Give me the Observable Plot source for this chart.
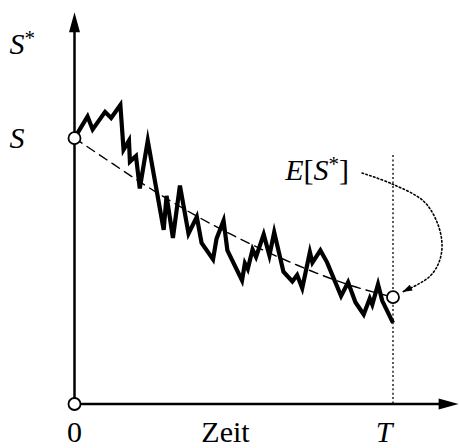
<!DOCTYPE html>
<html><head><meta charset="utf-8">
<script src="https://cdn.jsdelivr.net/npm/d3@7"></script>
<script src="https://cdn.jsdelivr.net/npm/@observablehq/plot@0.6"></script>
<style>body{margin:0;background:#fff} svg{display:block;overflow:visible}</style>
</head><body><div id="chart"></div>
<script>
// simulated price path S*(t), time in units where T = 100, S = 100
const pathT = [0,4.1,5.7,9.6,11.5,14.4,15.4,17.1,17.4,19.3,20.5,23.0,25.6,28.0,28.9,30.9,33.1,35.8,38.4,39.9,43.5,44.6,46.8,48.0,52.6,53.5,54.4,55.9,57.0,59.4,61.2,62.7,65.6,68.4,69.9,71.5,73.9,74.7,77.2,79.3,83.7,85.9,88.2,90.8,92.7,93.5,95.3,96.6,100];
const pathS = [100,108.2,103.3,109.9,107.6,112.5,95.7,99.1,91.2,93.3,81.1,99.1,81.6,65.5,78.3,62.5,82.2,64.1,70.4,60.6,54.4,62.2,69.0,57.8,46.5,52.9,50.8,58.1,55.3,63.8,55.9,64.6,49.8,46.1,48.5,43.6,57.1,53.2,57.8,53.3,40.6,45.8,38.3,33.7,39.7,37.4,45.0,38.9,30.5];
// expected value curve E[S*](t)
const expT = [0,10,20,30,40,50,60,70,80,90,100];
const expS = [100,92,84,76.5,69.6,63.3,57.5,52.2,47.4,43.4,40.2];
// dotted pointer from label to E[S*] at T
const hintT = [90.3,99.7,109.7,114.0,115.4,114.4,111.8,108.1,102.9];
const hintS = [86.9,82.8,76.2,67.9,59.6,53.2,48.3,45.2,42.1];
// key points
const T = 100, S0 = 100, ET = 40.2;
const xMax = 120.6, yMax = 147.4;
const circlesT = [0, 0, T];
const circlesS = [0, S0, ET];
const originLabel = "0";
const endLabel = "T";
const xTitle = "Zeit";
const yTitle = "S*";
const yTickLabel = "S";
const expLabel = "E[S*]";

const xOpt = {domain: [0, 100], range: [74, 392.5]};
const yOpt = {domain: [0, 100], range: [403.5, 137.7]};
const xs = Plot.scale({x: xOpt});
const ys = Plot.scale({y: yOpt});

const arrowHead = (len, half) => ({
  draw(ctx) { ctx.moveTo(0, 0); ctx.lineTo(half, len); ctx.lineTo(-half, len); ctx.closePath(); }
});
const axisHead = arrowHead(20, 5.5);
const hintHead = arrowHead(10, 3.2);

const n = hintT.length;
const hdx = xs.apply(hintT[n-1]) - xs.apply(hintT[n-2]);
const hdy = ys.apply(hintS[n-1]) - ys.apply(hintS[n-2]);
const hintAngle = Math.atan2(hdx, -hdy) * 180 / Math.PI;

const yLineEnd = ys.invert(ys.apply(yMax) + 12);
const xLineEnd = xs.invert(xs.apply(xMax) - 12);

const path = pathT.map((t, i) => ({t, s: pathS[i]}));
const exp = expT.map((t, i) => ({t, s: expS[i]}));
const hint = hintT.map((t, i) => ({t, s: hintS[i]}));
const circles = circlesT.map((t, i) => ({t, s: circlesS[i]}));

const font = {fontFamily: "Liberation Serif", fontSize: 30, fill: "black"};

const chart = Plot.plot({
  width: 459, height: 448,
  margin: 0,
  x: {...xOpt, axis: null},
  y: {...yOpt, axis: null},
  marks: [
    Plot.ruleX([0], {y1: 0, y2: yLineEnd, stroke: "black", strokeWidth: 2.5}),
    Plot.ruleY([0], {x1: 0, x2: xLineEnd, stroke: "black", strokeWidth: 2.5}),
    Plot.dot([{t: 0, s: yMax}], {x: "t", y: "s", symbol: axisHead, r: 5, fill: "black", stroke: null, rotate: 0}),
    Plot.dot([{t: xMax, s: 0}], {x: "t", y: "s", symbol: axisHead, r: 5, fill: "black", stroke: null, rotate: 90}),
    Plot.ruleX([T], {y1: 0, y2: 93.5, stroke: "black", strokeWidth: 1.3, strokeDasharray: "2,2.4"}),
    Plot.line(exp, {x: "t", y: "s", curve: "natural", stroke: "black", strokeWidth: 1.4, strokeDasharray: "9,6"}),
    Plot.line(hint, {x: "t", y: "s", curve: "catmull-rom", stroke: "black", strokeWidth: 1.6, strokeDasharray: "1.6,2.4"}),
    Plot.dot([hint[n-1]], {x: "t", y: "s", symbol: hintHead, r: 5, fill: "black", stroke: null, rotate: hintAngle}),
    Plot.line(path, {x: "t", y: "s", stroke: "black", strokeWidth: 4.2, strokeLinejoin: "miter", strokeMiterlimit: 6, strokeLinecap: "butt"}),
    Plot.dot(circles, {x: "t", y: "s", r: 6, fill: "white", stroke: "black", strokeWidth: 1.8}),
    Plot.text([yTitle], {x: 0, y: yMax, dx: -65, dy: 31.7, textAnchor: "start", ...font}),
    Plot.text([yTickLabel], {x: 0, y: S0, dx: -65, textAnchor: "start", fontStyle: "italic", ...font}),
    Plot.text([expLabel], {x: hintT[0], y: hintS[0], dx: -13, dy: -2.5, textAnchor: "end", ...font}),
    Plot.text([originLabel], {x: 0, y: 0, dy: 28, ...font}),
    Plot.text([endLabel], {x: T, y: 0, dx: -9, dy: 28, fontStyle: "italic", ...font}),
    Plot.text([xTitle], {x: 47.4, y: 0, dy: 28, ...font})
  ]
});
document.getElementById("chart").appendChild(chart);

// rich text: italic letters, raised small asterisk
d3.select(chart).selectAll("text").each(function() {
  const s = this.textContent;
  if (s !== yTitle && s !== expLabel) return;
  const el = d3.select(this);
  el.text(null);
  let raised = false;
  for (const ch of s) {
    const ts = el.append("tspan").text(ch);
    if (/[A-Z]/.test(ch)) ts.attr("font-style", "italic");
    if (ch === "*") { ts.attr("font-size", 21).attr("dy", -9); raised = true; }
    else if (raised) { ts.attr("dy", 9); raised = false; }
  }
});
</script>
</body></html>
